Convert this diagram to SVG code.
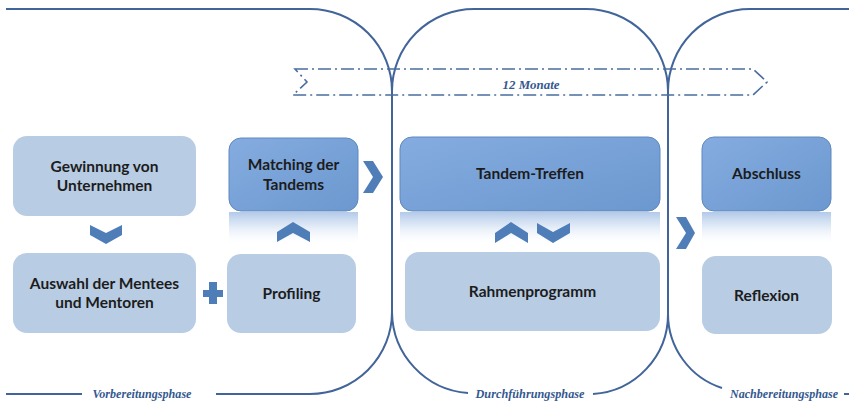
<svg xmlns="http://www.w3.org/2000/svg" width="849" height="406" viewBox="0 0 849 406">
<defs>
<linearGradient id="dark" x1="0" y1="0" x2="1" y2="1">
<stop offset="0" stop-color="#85ace0"/>
<stop offset="1" stop-color="#6b98cf"/>
</linearGradient>
<linearGradient id="refl" x1="0" y1="0" x2="0" y2="1">
<stop offset="0" stop-color="#a9c3e6" stop-opacity="0.9"/>
<stop offset="0.35" stop-color="#c9daf0" stop-opacity="0.7"/>
<stop offset="1" stop-color="#ffffff" stop-opacity="0"/>
</linearGradient>
<style>
.frame{fill:none;stroke:#41659a;stroke-width:2}
.dash{fill:none;stroke:#4a6d9f;stroke-width:1.6;stroke-dasharray:13 4 2 4}
.light{fill:#b8cce4}
.dark{fill:url(#dark);stroke:#5f88bf;stroke-width:1}
.refl{fill:url(#refl)}
.chev{fill:#4f7db8}
.t{font-family:Lato,"Liberation Sans",sans-serif;font-weight:bold;font-size:15.5px;fill:#1c1c1c;text-anchor:middle}
.ph{font-family:"Liberation Serif",serif;font-style:italic;font-weight:bold;font-size:13px;fill:#34588f;text-anchor:middle}
</style>
</defs>
<g id="frames">
<path class="frame" d="M6,9 H310 A82,82 0 0 1 392,91 V312 A82,82 0 0 1 310,394 H216"/>
<path class="frame" d="M6,394 H82"/>
<path class="frame" d="M392,91 A82,82 0 0 1 474,9 H586 A82,82 0 0 1 668,91 V314 A80,80 0 0 1 593,394"/>
<path class="frame" d="M392,312 A82,82 0 0 0 468,393"/>
<path class="frame" d="M668,91 A82,82 0 0 1 750,9 H849"/>
<path class="frame" d="M668,314 A78,78 0 0 0 722,388"/>
<path class="frame" d="M844,394 H849"/>
</g>
<g id="duration">
<path class="dash" d="M295,69 H753 L767,82 L753,95 H293 L307,82 Z"/>
<text class="ph" x="531" y="89" font-size="13.5" textLength="57" lengthAdjust="spacingAndGlyphs">12 Monate</text>
</g>
<g id="phase-labels">
<text class="ph" x="142" y="398" textLength="99" lengthAdjust="spacingAndGlyphs">Vorbereitungsphase</text>
<text class="ph" x="530" y="398" textLength="109" lengthAdjust="spacingAndGlyphs">Durchführungsphase</text>
<text class="ph" x="784" y="398" textLength="108" lengthAdjust="spacingAndGlyphs">Nachbereitungsphase</text>
</g>
<g id="n-gewinnung">
<rect class="light" x="13" y="136" width="183" height="80" rx="14"/>
<text class="t" x="104.5" y="172">Gewinnung von</text>
<text class="t" x="104.5" y="191">Unternehmen</text>
</g>
<g id="n-auswahl">
<rect class="light" x="13" y="253" width="183" height="80" rx="14"/>
<text class="t" x="104.5" y="289">Auswahl der Mentees</text>
<text class="t" x="104.5" y="308">und Mentoren</text>
</g>
<g id="n-profiling">
<rect class="light" x="227" y="254" width="129" height="79" rx="14"/>
<text class="t" x="291.5" y="299">Profiling</text>
</g>
<g id="n-matching">
<rect class="refl" x="229" y="212" width="129" height="34"/>
<rect class="dark" x="229" y="138" width="129" height="73" rx="12"/>
<text class="t" x="293.5" y="170">Matching der</text>
<text class="t" x="293.5" y="190">Tandems</text>
</g>
<g id="n-tandem">
<rect class="refl" x="400" y="212" width="260" height="34"/>
<rect class="dark" x="400" y="137" width="260" height="74" rx="12"/>
<text class="t" x="530" y="179">Tandem-Treffen</text>
</g>
<g id="n-rahmen">
<rect class="light" x="405" y="252" width="255" height="79" rx="14"/>
<text class="t" x="532.5" y="297">Rahmenprogramm</text>
</g>
<g id="n-abschluss">
<rect class="refl" x="702" y="212" width="129" height="34"/>
<rect class="dark" x="702" y="137" width="129" height="74" rx="12"/>
<text class="t" x="766.5" y="179">Abschluss</text>
</g>
<g id="n-reflexion">
<rect class="light" x="702" y="256" width="130" height="78" rx="14"/>
<text class="t" x="766.5" y="301">Reflexion</text>
</g>
<g id="connectors">
<polygon class="chev" points="90,225 106,233 122,225 122,235 106,244 90,235"/>
<polygon class="chev" points="277,232 293,222 310,232 310,242 293,233 277,242"/>
<polygon class="chev" points="495,233 511,222 528,233 528,243 511,233 495,243"/>
<polygon class="chev" points="537,223 553,232 570,223 570,233 553,243 537,233"/>
<polygon class="chev" points="363,161 373,161 383,177 373,193 363,193 373,177"/>
<polygon class="chev" points="676,217 686,217 695,233 686,249 676,249 686,233"/>
<path class="chev" d="M209,282 H217 V290 H223 V297 H217 V304 H209 V297 H203 V290 H209 Z"/>
</g>
</svg>
